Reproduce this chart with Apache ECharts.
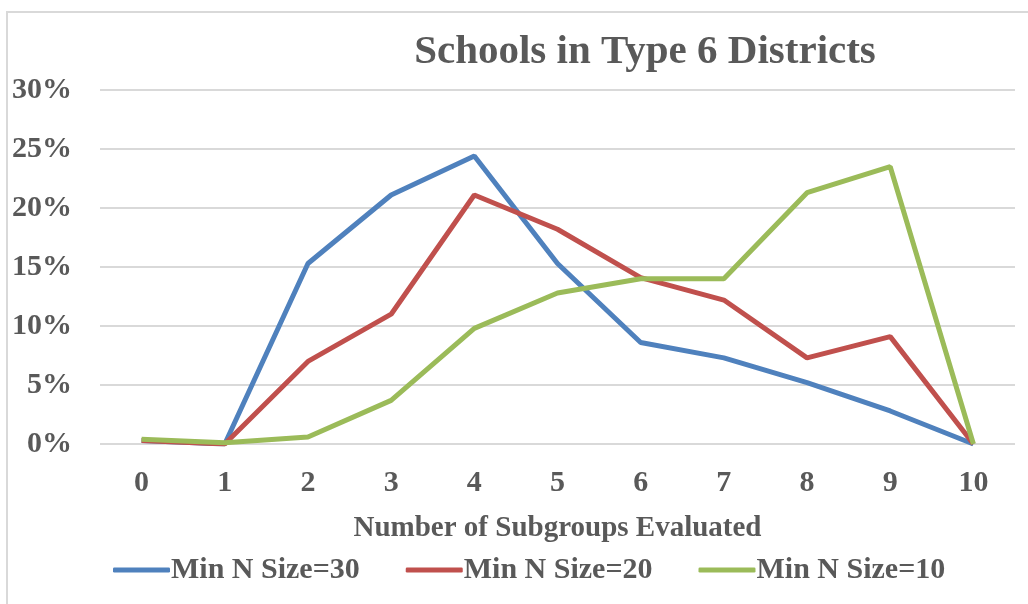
<!DOCTYPE html>
<html>
<head>
<meta charset="utf-8">
<script src="https://cdn.jsdelivr.net/npm/echarts@6/dist/echarts.min.js"></script>
<style>
    html, body { margin: 0; padding: 0; background: #fff; }
    #main { width: 1028px; height: 604px; }
    .frame {
        position: absolute; left: 6px; top: 11px; width: 1040px; height: 620px;
        border: 2px solid #d9d9d9; box-sizing: border-box; pointer-events: none;
    }
</style>
</head>
<body>
<div id="main"></div>
<div class="frame"></div>
<script>
// 横轴：评估的子群数量
const categories = ['0', '1', '2', '3', '4', '5', '6', '7', '8', '9', '10']
// 各最小样本量下的学校比例 (%)
const minN30 = [0.3, 0, 15.3, 21.1, 24.4, 15.3, 8.6, 7.3, 5.2, 2.8, 0]
const minN20 = [0.3, 0, 7.0, 11.0, 21.1, 18.2, 14.1, 12.2, 7.3, 9.1, 0]
const minN10 = [0.4, 0.1, 0.6, 3.7, 9.8, 12.8, 14.0, 14.0, 21.3, 23.5, 0]
const seriesNames = ['Min N Size=30', 'Min N Size=20', 'Min N Size=10']

const textColor = '#595959'
const font = 'Liberation Serif'

let myChart = echarts.init(document.getElementById('main'))
myChart.setOption({
    backgroundColor: '#fff',
    color: ['#4f81bd', '#c0504d', '#9bbb59'],
    animation: false,
    textStyle: { fontFamily: font, fontWeight: 'bold', color: textColor },
    title: {
        text: 'Schools in Type 6 Districts',
        left: 640,
        top: 27,
        textAlign: 'center',
        textStyle: { fontFamily: font, fontSize: 41, fontWeight: 'bold', color: textColor }
    },
    legend: {
        data: seriesNames,
        bottom: 14,
        left: 108,
        itemWidth: 57,
        itemHeight: 5,
        itemGap: 46,
        icon: 'roundRect',
        textStyle: { fontFamily: font, fontSize: 30, fontWeight: 'bold', color: textColor, padding: [0, 0, 0, -4] }
    },
    grid: { left: 100, right: 13, top: 90, bottom: 160 },
    xAxis: {
        type: 'category',
        data: categories,
        name: 'Number of Subgroups Evaluated',
        nameLocation: 'middle',
        nameGap: 70,
        nameTextStyle: { fontFamily: font, fontSize: 29, fontWeight: 'bold', color: textColor },
        axisLine: { show: false },
        axisTick: { show: false },
        axisLabel: { margin: 24, fontFamily: font, fontSize: 30, fontWeight: 'bold', color: textColor }
    },
    yAxis: {
        type: 'value',
        min: 0,
        max: 30,
        interval: 5,
        axisLine: { show: false },
        axisTick: { show: false },
        splitLine: { lineStyle: { color: '#d9d9d9', width: 2 } },
        axisLabel: {
            margin: 28,
            formatter: '{value}%',
            fontFamily: font, fontSize: 30, fontWeight: 'bold', color: textColor
        }
    },
    series: [
        { name: seriesNames[0], type: 'line', data: minN30, symbol: 'none', lineStyle: { width: 5 } },
        { name: seriesNames[1], type: 'line', data: minN20, symbol: 'none', lineStyle: { width: 5 } },
        { name: seriesNames[2], type: 'line', data: minN10, symbol: 'none', lineStyle: { width: 5 } }
    ]
})
</script>
</body>
</html>
